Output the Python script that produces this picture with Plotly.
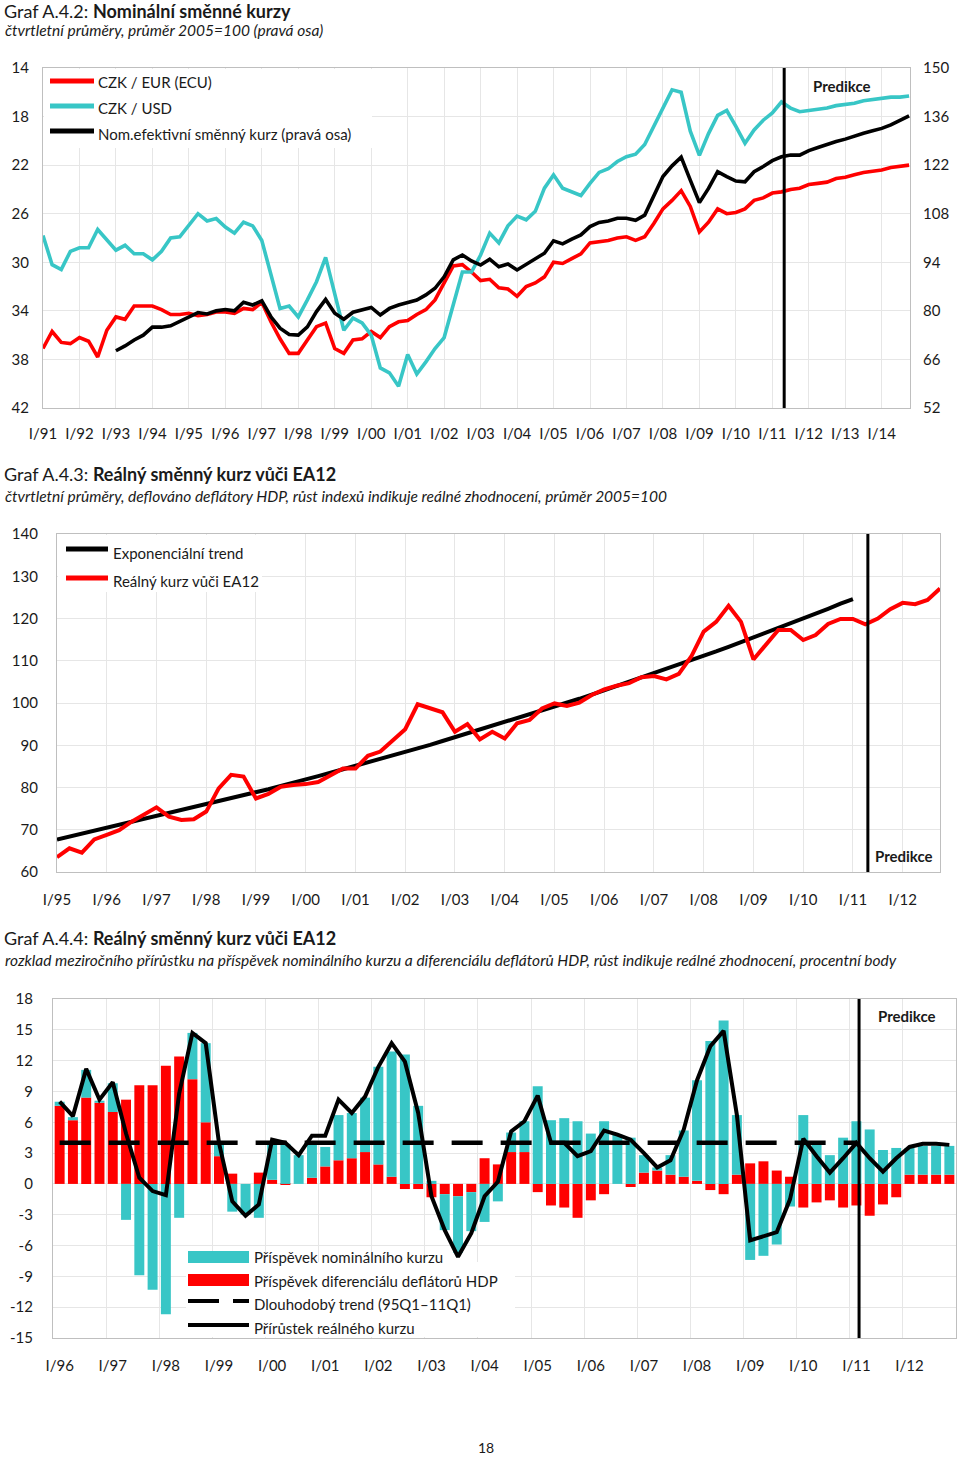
import plotly.graph_objects as go

W, H = 960, 1457
FONT = "Lato, 'Open Sans', sans-serif"
RED = "#ff0000"
CYAN = "#38c6c6"
BLACK = "#000000"
GRID = "#e6e6e6"
FRAME = "#bfbfbf"
TXT = "#1a1a1a"

# ---------------- data: Graf A.4.2 (I/91 .. IV/14) ----------------
top_years = list(range(1991, 2015))
top_eur = [37.1, 35.7, 36.6, 36.7, 36.2, 36.5, 37.8, 35.6, 34.5, 34.7, 33.6, 33.6,
           33.6, 33.9, 34.3, 34.3, 34.2, 34.4, 34.3, 34.1, 34.1, 34.2, 33.8, 33.9,
           33.3, 34.9, 36.3, 37.5, 37.5, 36.4, 35.3, 35.0, 37.1, 37.5, 36.4, 36.3,
           35.7, 36.2, 35.3, 34.9, 34.8, 34.3, 33.9, 33.1, 31.7, 30.3, 30.2, 30.8,
           31.5, 31.4, 32.1, 32.2, 32.8, 32.0, 31.7, 31.2, 30.0, 30.1, 29.7, 29.3,
           28.4, 28.3, 28.2, 28.0, 27.9, 28.2, 27.9, 26.8, 25.6, 24.9, 24.1, 25.4,
           27.5, 26.7, 25.6, 26.0, 25.9, 25.6, 24.9, 24.7, 24.3, 24.2, 24.0, 23.9,
           23.6, 23.5, 23.4, 23.1, 23.0, 22.8, 22.6, 22.5, 22.4, 22.2, 22.1, 22.0]
top_usd = [27.8, 30.2, 30.6, 29.1, 28.8, 28.8, 27.3, 28.2, 29.0, 28.6, 29.3, 29.3,
           29.8, 29.1, 28.0, 27.9, 26.9, 26.0, 26.6, 26.4, 27.1, 27.6, 26.7, 27.0,
           28.2, 31.1, 33.8, 33.6, 34.5, 33.1, 31.6, 29.6, 32.6, 35.6, 34.6, 35.0,
           36.0, 38.7, 39.1, 40.2, 37.6, 39.2, 38.2, 37.1, 36.2, 33.4, 30.8, 30.8,
           29.4, 27.6, 28.4, 27.0, 26.2, 26.5, 25.8, 23.9, 22.8, 23.9, 24.2, 24.5,
           23.5, 22.6, 22.3, 21.7, 21.3, 21.1, 20.3, 18.8, 17.2, 15.8, 16.0, 19.2,
           21.2, 19.4, 17.9, 17.5, 18.8, 20.2, 19.1, 18.3, 17.7, 16.8, 17.3, 17.6,
           17.5, 17.4, 17.3, 17.1, 17.0, 16.9, 16.7, 16.6, 16.5, 16.4, 16.4, 16.3]
top_neer = [None, None, None, None, None, None, None, None,
            68.5, 69.9, 71.6, 73.0, 75.3, 75.3, 75.7, 76.9, 78.3, 79.5, 79.1, 80.0,
            80.4, 80.0, 82.5, 81.7, 82.9, 78.3, 75.0, 73.2, 73.0, 75.4, 79.8, 83.3,
            79.3, 77.6, 79.6, 80.2, 81.0, 78.8, 80.7, 81.7, 82.5, 83.1, 84.6, 86.5,
            89.8, 94.7, 96.1, 94.4, 93.2, 94.9, 92.7, 93.5, 91.8, 93.5, 94.9, 96.6,
            100.2, 99.3, 100.7, 101.9, 104.3, 105.5, 105.9, 106.7, 106.7, 106.1, 107.6, 112.9,
            118.7, 121.8, 124.3, 117.7, 111.2, 115.3, 120.1, 118.7, 117.4, 117.2, 120.1, 121.6,
            123.3, 124.4, 124.9, 124.9, 126.2, 127.1, 128.0, 128.8, 129.5, 130.4, 131.2, 131.9,
            132.6, 133.6, 135.0, 136.2]
top_left_ticks = [14, 18, 22, 26, 30, 34, 38, 42]
top_right_ticks = [52, 66, 80, 94, 108, 122, 136, 150]
top_pred = 81.3

# ---------------- data: Graf A.4.3 (I/95 .. IV/12) ----------------
mid_years = list(range(1995, 2013))
mid_real = [63.5, 65.6, 64.6, 67.7, 68.8, 69.9, 71.9, 73.5, 75.3, 73.1, 72.3, 72.5,
            74.3, 79.8, 83.0, 82.6, 77.4, 78.5, 80.2, 80.6, 80.8, 81.3, 83.0, 84.5,
            84.5, 87.5, 88.5, 91.2, 93.8, 99.7, 98.7, 97.8, 93.2, 95.0, 91.4, 93.2,
            91.6, 95.2, 96.0, 98.7, 99.9, 99.3, 100.1, 101.9, 103.2, 104.1, 104.7, 106.1,
            106.4, 105.6, 106.9, 111.0, 116.9, 119.2, 123.0, 119.2, 110.3, 113.9, 117.3, 117.3,
            114.9, 116.1, 118.7, 119.9, 119.9, 118.6, 120.0, 122.2, 123.7, 123.4, 124.4, 127.1]
mid_trend = [67.7, 68.4, 69.0, 69.7, 70.3, 71.0, 71.7, 72.4, 73.1, 73.8, 74.5, 75.2,
             75.9, 76.6, 77.4, 78.1, 78.9, 79.6, 80.4, 81.1, 81.9, 82.7, 83.5, 84.3,
             85.1, 85.9, 86.7, 87.6, 88.4, 89.3, 90.1, 91.0, 91.9, 92.7, 93.6, 94.5,
             95.4, 96.3, 97.3, 98.2, 99.1, 100.1, 101.0, 102.0, 103.0, 104.0, 105.0, 106.0,
             107.0, 108.0, 109.1, 110.1, 111.2, 112.2, 113.3, 114.4, 115.5, 116.6, 117.7, 118.8,
             120.0, 121.1, 122.3, 123.5, 124.6]
mid_pred = 65.2

# ---------------- data: Graf A.4.4 (I/96 .. IV/12) ----------------
bot_years = list(range(1996, 2013))
bot_nominal = [0.4, 0.3, 2.7, 0.2, 2.8, -3.5, -8.9, -10.3, -12.7, -3.3, 4.5, 7.7,
               1.4, -2.7, -3.0, -3.3, 3.5, 3.9, 2.8, 3.2, 1.9, 4.4, 4.4, 5.3,
               9.5, 12.2, 12.6, 7.6, 0.3, -3.5, -5.5, -3.8, -3.7, -1.7, 1.9, 3.0,
               9.5, 6.2, 6.4, 6.1, 4.9, 6.1, 4.8, 4.5, 1.7, 0.3, 1.9, 4.5,
               9.8, 13.9, 15.9, 5.8, -7.4, -7.0, -5.9, -2.2, 6.7, 3.8, 2.8, 4.5,
               6.1, 5.3, 3.3, 3.5, 2.6, 2.8, 2.8, 2.8]
bot_deflator = [7.6, 6.2, 8.4, 7.9, 7.0, 8.2, 9.6, 9.6, 11.5, 12.4, 10.2, 6.0,
                2.7, 1.0, 0.0, 1.1, 0.4, -0.1, 0.0, 0.6, 1.7, 2.3, 2.5, 3.1,
                1.9, 0.7, -0.5, -0.5, -1.3, -1.0, -1.2, -0.8, 2.5, 1.9, 3.1, 3.1,
                -0.8, -2.1, -2.3, -3.3, -1.6, -1.0, 0.0, -0.3, 1.1, 1.3, 0.9, 0.7,
                0.3, -0.6, -1.0, 0.9, 2.0, 2.2, 1.3, 0.7, -2.3, -1.8, -1.6, -2.3,
                -2.1, -3.1, -2.0, -1.3, 0.9, 0.9, 0.9, 0.9]
bot_real = [8.0, 6.6, 11.2, 8.2, 9.9, 4.9, 0.6, -0.7, -1.1, 8.8, 14.7, 13.7,
            4.0, -1.7, -3.1, -2.0, 4.3, 4.0, 2.8, 4.7, 4.7, 8.2, 6.9, 8.5,
            11.4, 13.7, 11.9, 6.9, -1.2, -4.5, -7.1, -4.8, -1.2, 0.2, 5.1, 6.1,
            8.6, 4.0, 4.0, 2.7, 3.2, 5.2, 4.8, 4.3, 3.0, 1.6, 2.3, 5.3,
            10.1, 13.4, 14.9, 6.7, -5.5, -5.1, -4.7, -1.5, 4.4, 2.7, 1.1, 2.5,
            4.0, 2.5, 1.2, 2.5, 3.6, 3.9, 3.9, 3.8]
bot_trend_value = 4.0
bot_trend_span = [0, 60]          # I/96 .. I/11
bot_ticks = [-15, -12, -9, -6, -3, 0, 3, 6, 9, 12, 15, 18]
bot_pred = 60.2

# ---------------- layout geometry (pixels) ----------------
TOP = dict(x0=43, x1=910, y0=68, y1=408)
MID = dict(x0=57, x1=940, y0=534, y1=872)
BOT = dict(x0=53, x1=956, y0=999, y1=1338)


def dom_x(b):
    return [b["x0"] / W, b["x1"] / W]


def dom_y(b):
    return [1 - b["y1"] / H, 1 - b["y0"] / H]


def fx(px):
    return px / W


def fy(py):
    return 1 - py / H


fig = go.Figure()

# ---- top chart traces ----
top_x = list(range(len(top_eur)))
fig.add_trace(go.Scatter(x=top_x, y=top_eur, mode="lines", line=dict(color=RED, width=3.6),
                         xaxis="x", yaxis="y", showlegend=False))
fig.add_trace(go.Scatter(x=top_x, y=top_usd, mode="lines", line=dict(color=CYAN, width=3.6),
                         xaxis="x", yaxis="y", showlegend=False))
fig.add_trace(go.Scatter(x=top_x, y=top_neer, mode="lines", line=dict(color=BLACK, width=3.6),
                         xaxis="x", yaxis="y2", showlegend=False))

# ---- middle chart traces ----
fig.add_trace(go.Scatter(x=list(range(len(mid_trend))), y=mid_trend, mode="lines",
                         line=dict(color=BLACK, width=4), xaxis="x2", yaxis="y3", showlegend=False))
fig.add_trace(go.Scatter(x=list(range(len(mid_real))), y=mid_real, mode="lines",
                         line=dict(color=RED, width=4), xaxis="x2", yaxis="y3", showlegend=False))

# ---- bottom chart traces ----
bot_x = list(range(len(bot_nominal)))
fig.add_trace(go.Bar(x=bot_x, y=bot_deflator, marker=dict(color=RED, line=dict(width=0)),
                     width=0.75, xaxis="x3", yaxis="y4", showlegend=False))
fig.add_trace(go.Bar(x=bot_x, y=bot_nominal, marker=dict(color=CYAN, line=dict(width=0)),
                     width=0.75, xaxis="x3", yaxis="y4", showlegend=False))
fig.add_trace(go.Scatter(x=bot_trend_span, y=[bot_trend_value, bot_trend_value], mode="lines",
                         line=dict(color=BLACK, width=4.5, dash="31px,18px"),
                         xaxis="x3", yaxis="y4", showlegend=False))
fig.add_trace(go.Scatter(x=bot_x, y=bot_real, mode="lines", line=dict(color=BLACK, width=4),
                         xaxis="x3", yaxis="y4", showlegend=False))

tickfont = dict(family=FONT, size=15, color=TXT)
axis_common = dict(showline=True, linecolor=FRAME, linewidth=1.2, mirror=True,
                   gridcolor=GRID, gridwidth=1, zeroline=False, tickfont=tickfont,
                   ticks="outside", tickcolor="rgba(0,0,0,0)", automargin=False)

fig.update_layout(
    width=W, height=H, margin=dict(l=0, r=0, t=0, b=0, autoexpand=False),
    paper_bgcolor="white", plot_bgcolor="white",
    font=dict(family=FONT, color=TXT),
    barmode="relative",
    showlegend=False,
    xaxis=dict(domain=dom_x(TOP), anchor="y", range=[0, 95.1],
               tickvals=[4 * k for k in range(len(top_years))],
               ticktext=[f"I/{y % 100:02d}" for y in top_years],
               showgrid=True, ticklen=12, **axis_common),
    yaxis=dict(domain=dom_y(TOP), anchor="x", range=[42, 14],
               tickvals=top_left_ticks, ticktext=[str(v) for v in top_left_ticks],
               showgrid=True, ticklen=10, **axis_common),
    yaxis2=dict(overlaying="y", side="right", anchor="x", range=[52, 150],
                tickvals=top_right_ticks, ticktext=[str(v) for v in top_right_ticks],
                showgrid=False, showline=False, zeroline=False, tickfont=tickfont,
                ticks="outside", ticklen=9, tickcolor="rgba(0,0,0,0)", automargin=False),
    xaxis2=dict(domain=dom_x(MID), anchor="y3", range=[0, 71],
                tickvals=[4 * k for k in range(len(mid_years))],
                ticktext=[f"I/{y % 100:02d}" for y in mid_years],
                showgrid=True, ticklen=14, **axis_common),
    yaxis3=dict(domain=dom_y(MID), anchor="x2", range=[60, 140], dtick=10,
                showgrid=True, ticklen=15, **axis_common),
    xaxis3=dict(domain=dom_x(BOT), anchor="y4", range=[-0.5, len(bot_nominal) - 0.5],
                tickvals=[4 * k for k in range(len(bot_years))],
                ticktext=[f"I/{y % 100:02d}" for y in bot_years],
                showgrid=False, ticklen=14,
                minor=dict(tick0=-0.5, dtick=4, showgrid=True, gridcolor=GRID, ticks=""),
                **axis_common),
    yaxis4=dict(domain=dom_y(BOT), anchor="x3", range=[-15, 18],
                tickvals=bot_ticks, ticktext=[str(v) for v in bot_ticks],
                showgrid=True, ticklen=16, **axis_common),
)

shapes = []
annotations = []

# prediction lines
for xref, yref, xv in (("x", "y domain", top_pred), ("x2", "y3 domain", mid_pred),
                       ("x3", "y4 domain", bot_pred)):
    shapes.append(dict(type="line", xref=xref, yref=yref, x0=xv, x1=xv, y0=0, y1=1,
                       line=dict(color=BLACK, width=3), layer="above"))


def white_box(px0, py0, px1, py1):
    shapes.append(dict(type="rect", xref="paper", yref="paper",
                       x0=fx(px0), x1=fx(px1), y0=fy(py1), y1=fy(py0),
                       fillcolor="white", line=dict(width=0), layer="above"))


# white legend backgrounds (they hide the grid under the legend text)
white_box(44, 69, 372, 148)
white_box(58, 535, 262, 592)
white_box(186, 1262, 515, 1337)


def leg_line(px0, px1, py, color, width=5, dash=None):
    ln = dict(color=color, width=width)
    if dash:
        ln["dash"] = dash
    shapes.append(dict(type="line", xref="paper", yref="paper", x0=fx(px0), x1=fx(px1),
                       y0=fy(py), y1=fy(py), line=ln, layer="above"))


def leg_rect(px0, px1, py0, py1, color):
    shapes.append(dict(type="rect", xref="paper", yref="paper", x0=fx(px0), x1=fx(px1),
                       y0=fy(py1), y1=fy(py0), fillcolor=color, line=dict(width=0),
                       layer="above"))


def text(px, py, s, size=15, anchor="left", bold=False, italic=False):
    if bold:
        s = f"<b>{s}</b>"
    if italic:
        s = f"<i>{s}</i>"
    annotations.append(dict(xref="paper", yref="paper", x=fx(px), y=fy(py), text=s,
                            showarrow=False, xanchor=anchor, yanchor="middle",
                            font=dict(family=FONT, size=size, color=TXT)))


# top legend
leg_line(50, 94, 81, RED)
leg_line(50, 94, 106, CYAN)
leg_line(50, 94, 131, BLACK)
text(96, 82, "CZK / EUR (ECU)")
text(96, 108, "CZK / USD")
text(96, 134, "Nom.efektivní směnný kurz (pravá osa)")

# middle legend
leg_line(66, 108, 549, BLACK)
leg_line(66, 108, 578, RED)
text(111, 553, "Exponenciální trend")
text(111, 581, "Reálný kurz vůči EA12")

# bottom legend
leg_rect(188, 249, 1251, 1263, CYAN)
leg_rect(188, 249, 1274, 1286, RED)
leg_line(188, 249, 1301, BLACK, width=4, dash="31px,14px")
leg_line(188, 249, 1325, BLACK, width=4)
text(252, 1257, "Příspěvek nominálního kurzu")
text(252, 1281, "Příspěvek diferenciálu deflátorů HDP")
text(252, 1304, "Dlouhodobý trend (95Q1–11Q1)")
text(252, 1328, "Přírůstek reálného kurzu")

# predikce labels
text(842, 86, "Predikce", anchor="center", bold=True)
text(904, 856, "Predikce", anchor="center", bold=True)
text(907, 1016, "Predikce", anchor="center", bold=True)

# titles
text(2, 11, "Graf A.4.2: <b>Nominální směnné kurzy</b>", size=18)
text(3, 30, "čtvrtletní průměry, průměr 2005=100 (pravá osa)", size=15.5, italic=True)
text(2, 474, "Graf A.4.3: <b>Reálný směnný kurz vůči EA12</b>", size=18)
text(3, 496, "čtvrtletní průměry, deflováno deflátory HDP, růst indexů indikuje reálné "
             "zhodnocení, průměr 2005=100", size=15.5, italic=True)
text(2, 938, "Graf A.4.4: <b>Reálný směnný kurz vůči EA12</b>", size=18)
text(3, 960, "rozklad meziročního přírůstku na příspěvek nominálního kurzu a diferenciálu "
             "deflátorů HDP, růst indikuje reálné zhodnocení, procentní body", size=15.5, italic=True)
text(486, 1447, "18", size=14, anchor="center")

fig.update_layout(shapes=shapes, annotations=annotations)
fig.write_html("out.html")
